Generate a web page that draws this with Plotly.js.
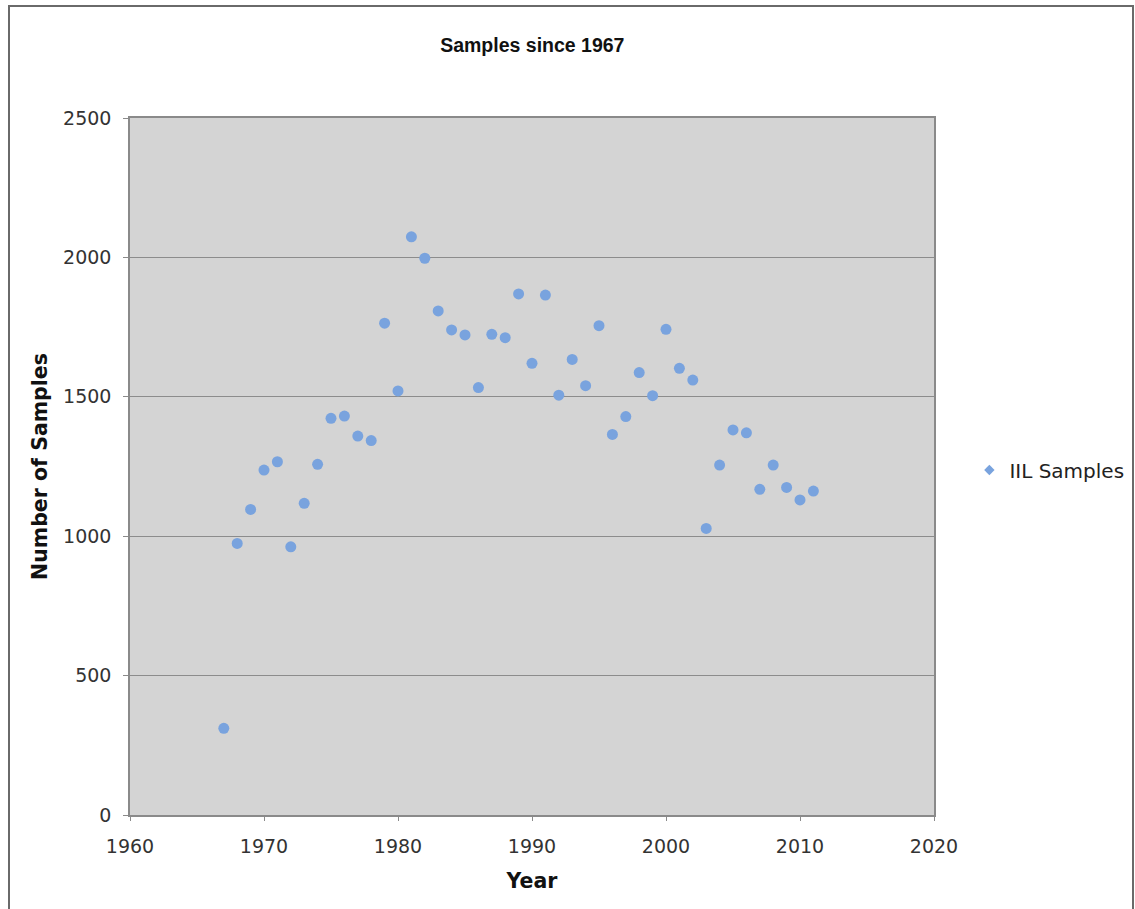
<!DOCTYPE html>
<html>
<head>
<meta charset="utf-8">
<script src="https://cdn.plot.ly/plotly-3.0.1.min.js"></script>
<style>
  html, body { margin: 0; padding: 0; background: #fff; overflow: hidden; }
  #frame { position: absolute; left: 8px; top: 5px; width: 1126px; height: 920px; border: 2px solid #6a6a6a; box-sizing: border-box; }
  #chart { position: absolute; left: 0; top: 0; width: 1135px; height: 909px; }
</style>
</head>
<body>
<div id="frame"></div>
<div id="chart"></div>
<script>
const years = [1967,1968,1969,1970,1971,1972,1973,1974,1975,1976,1977,1978,1979,1980,1981,1982,1983,1984,1985,1986,1987,1988,1989,1990,1991,1992,1993,1994,1995,1996,1997,1998,1999,2000,2001,2002,2003,2004,2005,2006,2007,2008,2009,2010,2011];
const samples = [311,974,1096,1237,1267,962,1118,1258,1423,1431,1359,1343,1764,1521,2074,1997,1808,1740,1722,1533,1724,1712,1869,1620,1865,1506,1634,1540,1755,1365,1429,1587,1504,1742,1602,1560,1028,1255,1381,1371,1168,1255,1175,1130,1162];
const seriesName = "IIL Samples";
const chartTitle = "Samples since 1967";
const xTitle = "Year";
const yTitle = "Number of Samples";

const font = "DejaVu Sans, Verdana, sans-serif";
const pointColor = '#79a3de';

Plotly.newPlot('chart', [
  {
    x: years, y: samples, type: 'scatter', mode: 'markers', name: seriesName, showlegend: false,
    marker: { symbol: 'circle', size: 11, color: pointColor }
  },
  {
    x: [null], y: [null], type: 'scatter', mode: 'markers', name: seriesName, showlegend: true,
    marker: { symbol: 'diamond', size: 8, color: pointColor }
  }
], {
  width: 1135, height: 909,
  margin: { l: 130, r: 201, t: 118, b: 94, autoexpand: false },
  paper_bgcolor: 'rgba(0,0,0,0)',
  plot_bgcolor: '#d4d4d4',
  showlegend: true,
  font: { family: font, size: 19, color: '#333' },
  title: { text: '<b>' + chartTitle + '</b>', x: 0.469, xanchor: 'center', y: 0.95, yanchor: 'middle', font: { family: "Liberation Sans, Arial, sans-serif", size: 19.5, color: '#111' } },
  xaxis: {
    range: [1960, 2020], dtick: 10, tick0: 1960, showgrid: false, zeroline: false,
    showline: true, linecolor: '#8a8a8a', linewidth: 1.5, mirror: true,
    ticks: 'outside', ticklen: 4, tickcolor: '#8a8a8a', ticklabelstandoff: 9,
    tickfont: { family: font, size: 19, color: '#333' },
    title: { text: '<b>' + xTitle + '</b>', font: { family: font, size: 20.5, color: '#111' }, standoff: 18 }
  },
  yaxis: {
    range: [0, 2500], dtick: 500, showgrid: true, gridcolor: '#8c8c8c', gridwidth: 1.2, zeroline: false,
    showline: true, linecolor: '#8a8a8a', linewidth: 1.5, mirror: true,
    ticks: 'outside', ticklen: 5, tickcolor: '#8a8a8a', ticklabelstandoff: 8,
    tickfont: { family: font, size: 19, color: '#333' },
    title: { text: '<b>' + yTitle + '</b>', font: { family: font, size: 20.5, color: '#111' }, standoff: 10 }
  },
  legend: { x: 1.044, xanchor: 'left', y: 0.495, yanchor: 'middle', bgcolor: 'rgba(0,0,0,0)', font: { family: font, size: 20, color: '#222' }, itemwidth: 30 }
}, { displayModeBar: false });
</script>
</body>
</html>
